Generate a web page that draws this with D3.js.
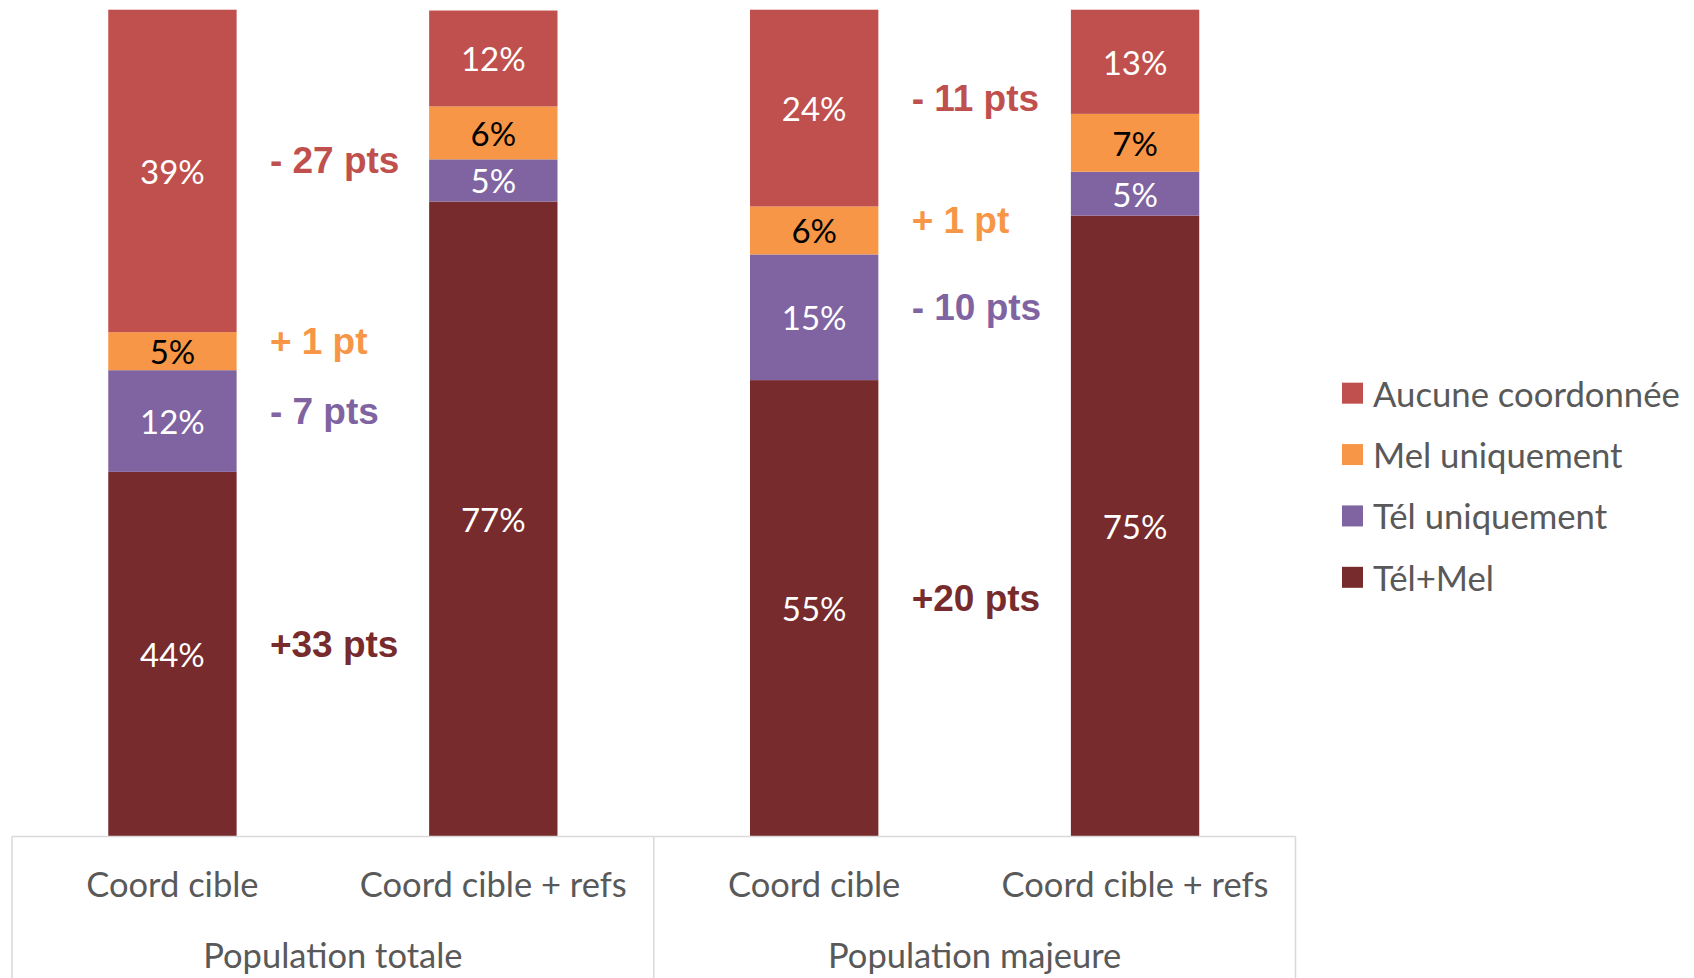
<!DOCTYPE html>
<html><head><meta charset="utf-8">
<script src="https://cdn.jsdelivr.net/npm/d3@7"></script>
<style>html,body{margin:0;padding:0;background:#fff;}svg{display:block;}</style>
</head><body>
<script>
// ---- data ----
const groups = ["Population totale", "Population majeure"];
const categories = ["Coord cible", "Coord cible + refs", "Coord cible", "Coord cible + refs"];
const seriesNames = ["Tél+Mel", "Tél uniquement", "Mel uniquement", "Aucune coordonnée"]; // bottom -> top
const telMel   = [44.1, 76.8, 55.2, 75.1];
const telOnly  = [12.3, 5.1, 15.2, 5.3];
const melOnly  = [4.6, 6.4, 5.8, 7.0];
const aucune   = [39.0, 11.6, 23.8, 12.6];
const deltaLabels = [
  ["+33 pts", "- 7 pts", "+ 1 pt", "- 27 pts"],
  ["+20 pts", "- 10 pts", "+ 1 pt", "- 11 pts"]
];
const colors = ["#772B2C", "#8064A2", "#F79646", "#C0504D"];
const labelColors = ["#ffffff", "#ffffff", "#000000", "#ffffff"];

// ---- layout ----
const W = 1694, H = 978;
const plotL = 12, plotR = 1295.5, plotB = 836.5, plotT = 9.7;
const svg = d3.select("body").append("svg").attr("width", W).attr("height", H);

const keys = categories.map((c, i) => i);
const x = d3.scaleBand().domain(keys).range([plotL, plotR]).paddingInner(0.6).paddingOuter(0.3);
const xg = d3.scaleBand().domain(groups).range([plotL, plotR]);
const y = d3.scaleLinear().domain([0, 100]).range([plotB, plotT]);

const rows = keys.map(i => ({ i, "Tél+Mel": telMel[i], "Tél uniquement": telOnly[i], "Mel uniquement": melOnly[i], "Aucune coordonnée": aucune[i] }));
const stacked = d3.stack().keys(seriesNames)(rows);

const layers = svg.append("g").selectAll("g").data(stacked).join("g").attr("fill", (d, k) => colors[k]);
layers.selectAll("rect").data(d => d).join("rect")
  .attr("x", d => x(d.data.i)).attr("width", x.bandwidth())
  .attr("y", d => y(d[1])).attr("height", d => y(d[0]) - y(d[1]));

// data labels
stacked.forEach((s, k) => {
  svg.append("g").selectAll("text").data(s).join("text")
    .attr("x", d => x(d.data.i) + x.bandwidth() / 2)
    .attr("y", d => (y(d[0]) + y(d[1])) / 2)
    .attr("text-anchor", "middle").attr("dominant-baseline", "central")
    .attr("font-family", "Lato, sans-serif").attr("font-size", 33)
    .attr("fill", labelColors[k])
    .text(d => Math.round(d[1] - d[0]) + "%");
});

// delta annotations
groups.forEach((g, gi) => {
  const a = gi * 2, b = gi * 2 + 1;
  const gapMid = (x(a) + x.bandwidth() + x(b)) / 2;
  stacked.forEach((s, k) => {
    const d = s[a];
    svg.append("text")
      .attr("x", gapMid - 63)
      .attr("y", (y(d[0]) + y(d[1])) / 2 - 10)
      .attr("dominant-baseline", "central")
      .attr("font-family", "'Liberation Sans', Arial, sans-serif").attr("font-weight", "bold")
      .attr("font-size", 37).attr("fill", colors[k])
      .text(deltaLabels[gi][k]);
  });
});

// category axis (multi-level)
const axisColor = "#D9D9D9";
const ax = svg.append("g").attr("stroke", axisColor).attr("stroke-width", 1.5);
ax.append("line").attr("x1", plotL).attr("x2", plotR).attr("y1", plotB).attr("y2", plotB);
[plotL, xg(groups[1]), plotR].forEach(v => {
  ax.append("line").attr("x1", v).attr("x2", v).attr("y1", plotB).attr("y2", H);
});
svg.append("g").selectAll("text").data(keys).join("text")
  .attr("x", i => x(i) + x.bandwidth() / 2).attr("y", 883)
  .attr("text-anchor", "middle").attr("dominant-baseline", "central")
  .attr("font-family", "Lato, sans-serif").attr("font-size", 34.5).attr("fill", "#595959")
  .text(i => categories[i]);
svg.append("g").selectAll("text").data(groups).join("text")
  .attr("x", g => xg(g) + xg.bandwidth() / 2).attr("y", 954)
  .attr("text-anchor", "middle").attr("dominant-baseline", "central")
  .attr("font-family", "Lato, sans-serif").attr("font-size", 34.5).attr("fill", "#595959")
  .text(g => g);

// legend
const legendOrder = seriesNames.map((n, k) => k).reverse();
const ly = d3.scaleBand().domain(legendOrder).range([362.5, 608]);
const lg = svg.append("g").selectAll("g").data(legendOrder).join("g")
  .attr("transform", k => `translate(1342,${ly(k) + ly.bandwidth() / 2})`);
lg.append("rect").attr("x", 0).attr("y", -10.5).attr("width", 21).attr("height", 21).attr("fill", k => colors[k]);
lg.append("text").attr("x", 31).attr("y", 0).attr("dominant-baseline", "central")
  .attr("font-family", "Lato, sans-serif").attr("font-size", 34.7).attr("fill", "#595959")
  .text(k => seriesNames[k]);
</script>
</body></html>
